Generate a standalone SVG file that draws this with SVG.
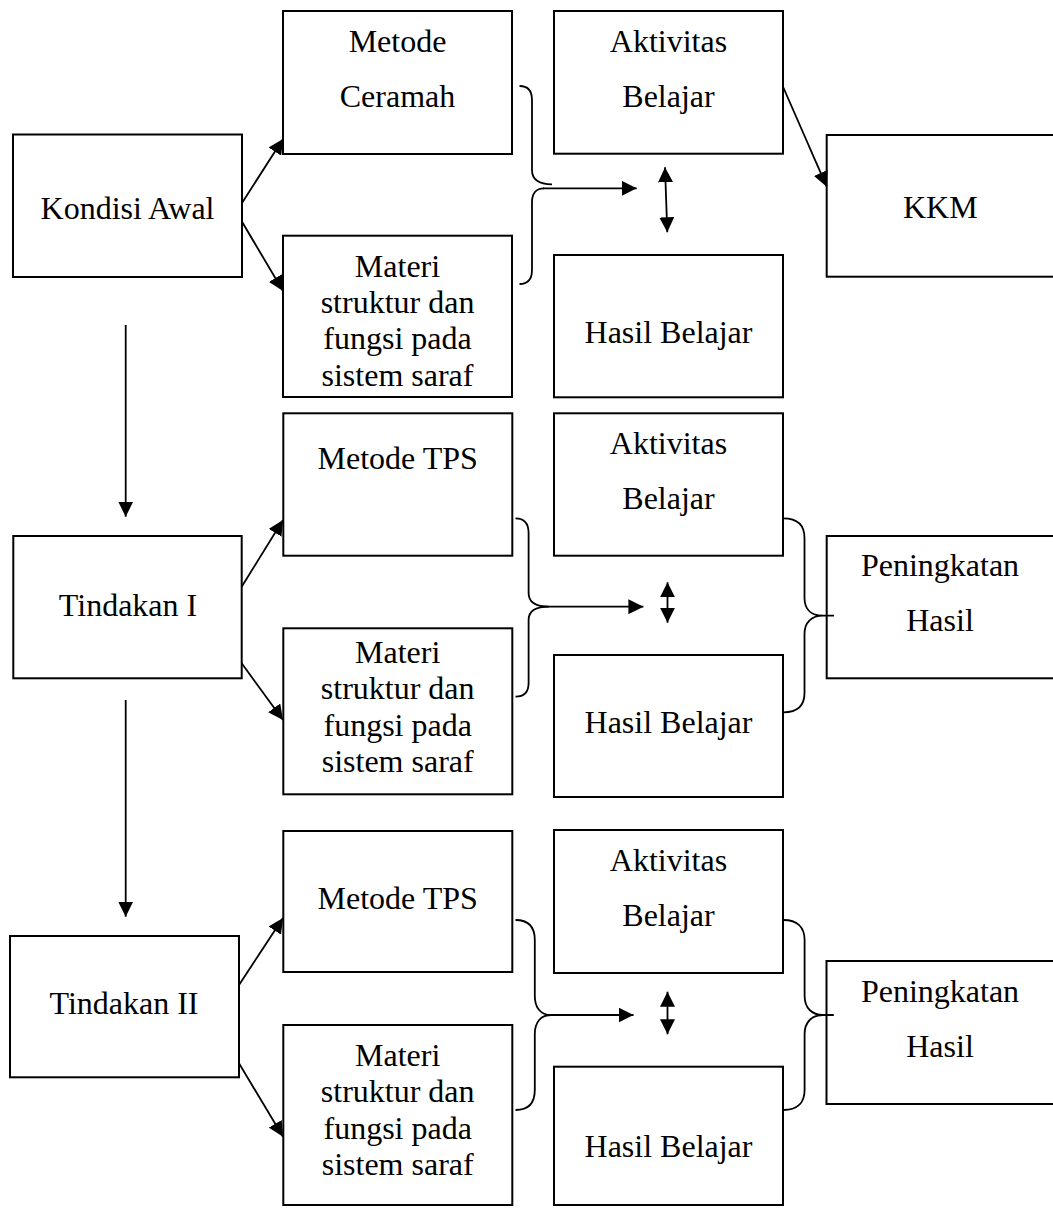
<svg xmlns="http://www.w3.org/2000/svg" width="1053" height="1208" viewBox="0 0 1053 1208">
<style>
.box{fill:#fff;stroke:#000;stroke-width:2}
.t{font-family:"Liberation Serif","Times New Roman",serif;font-size:32px;text-anchor:middle;fill:#000}
.c{fill:none;stroke:#000;stroke-width:1.8}
</style>
<defs>
<marker id="ah" viewBox="0 0 15 15" refX="15" refY="7.5" markerWidth="15" markerHeight="15" markerUnits="userSpaceOnUse" orient="auto-start-reverse">
<path d="M0,0 L15,7.5 L0,15 z" fill="#000"/>
</marker>
</defs>
<rect width="1053" height="1208" fill="#fff"/>

<g id="kondisi-awal"><rect class="box" x="13" y="134.5" width="229" height="142.5"/><text class="t" x="127.5" y="219">Kondisi Awal</text></g>
<g id="metode-ceramah"><rect class="box" x="283" y="11" width="229" height="143"/><text class="t" x="397.5" y="51.7">Metode</text><text class="t" x="397.5" y="106.7">Ceramah</text></g>
<g id="materi-1"><rect class="box" x="283" y="235.7" width="229" height="161.3"/><text class="t" x="397.5" y="276.5">Materi</text><text class="t" x="397.5" y="313">struktur dan</text><text class="t" x="397.5" y="349.3">fungsi pada</text><text class="t" x="397.5" y="385.7">sistem saraf</text></g>
<g id="aktivitas-1"><rect class="box" x="554" y="11" width="229" height="142.7"/><text class="t" x="668.5" y="51.7">Aktivitas</text><text class="t" x="668.5" y="106.7">Belajar</text></g>
<g id="hasil-1"><rect class="box" x="554" y="255" width="229" height="142.3"/><text class="t" x="668.5" y="343.3">Hasil Belajar</text></g>
<g id="kkm"><rect class="box" x="826.7" y="135" width="230" height="141.7"/><text class="t" x="940.3" y="218.3">KKM</text></g>

<g id="tindakan-1"><rect class="box" x="13.3" y="536" width="228.4" height="142.3"/><text class="t" x="128" y="615.5">Tindakan I</text></g>
<g id="metode-tps-1"><rect class="box" x="283.3" y="413.3" width="229" height="142.4"/><text class="t" x="397.7" y="469">Metode TPS</text></g>
<g id="materi-2"><rect class="box" x="283.3" y="628.3" width="229" height="166"/><text class="t" x="397.7" y="663">Materi</text><text class="t" x="397.7" y="699.3">struktur dan</text><text class="t" x="397.7" y="735.6">fungsi pada</text><text class="t" x="397.7" y="772">sistem saraf</text></g>
<g id="aktivitas-2"><rect class="box" x="554" y="413.3" width="229" height="142.4"/><text class="t" x="668.5" y="454">Aktivitas</text><text class="t" x="668.5" y="509">Belajar</text></g>
<g id="hasil-2"><rect class="box" x="554" y="655" width="229" height="142"/><text class="t" x="668.5" y="733">Hasil Belajar</text></g>
<g id="peningkatan-1"><rect class="box" x="826.7" y="536" width="230" height="142.3"/><text class="t" x="940" y="576">Peningkatan</text><text class="t" x="940" y="631">Hasil</text></g>

<g id="tindakan-2"><rect class="box" x="10" y="936" width="229" height="141.3"/><text class="t" x="124" y="1014.3">Tindakan II</text></g>
<g id="metode-tps-2"><rect class="box" x="283.3" y="831" width="229" height="141"/><text class="t" x="397.7" y="909">Metode TPS</text></g>
<g id="materi-3"><rect class="box" x="283.3" y="1025" width="229" height="180"/><text class="t" x="397.7" y="1066">Materi</text><text class="t" x="397.7" y="1102.3">struktur dan</text><text class="t" x="397.7" y="1138.6">fungsi pada</text><text class="t" x="397.7" y="1175">sistem saraf</text></g>
<g id="aktivitas-3"><rect class="box" x="554" y="830" width="229" height="143"/><text class="t" x="668.5" y="870.7">Aktivitas</text><text class="t" x="668.5" y="925.7">Belajar</text></g>
<g id="hasil-3"><rect class="box" x="554" y="1066.7" width="229" height="138.3"/><text class="t" x="668.5" y="1157">Hasil Belajar</text></g>
<g id="peningkatan-2"><rect class="box" x="826.5" y="961" width="230" height="143"/><text class="t" x="940" y="1001.7">Peningkatan</text><text class="t" x="940" y="1056.7">Hasil</text></g>

<g id="connectors">
<line class="c" x1="242" y1="203" x2="283" y2="139" marker-end="url(#ah)"/>
<line class="c" x1="242" y1="221.7" x2="283" y2="291" marker-end="url(#ah)"/>
<line class="c" x1="125.7" y1="325" x2="125.7" y2="516.7" marker-end="url(#ah)"/>
<path class="c" d="M519.5,86 C528,86 532,91 532,100 L532,170 C532,179 538,184.3 552,184.3 M544,188.3 C536,188.3 532,194 532,202 L532,270 C532,279 528,284 519.5,284"/>
<line class="c" x1="543" y1="188.3" x2="636.7" y2="188.3" marker-end="url(#ah)"/>
<line class="c" x1="665" y1="167.3" x2="667.3" y2="232.3" marker-start="url(#ah)" marker-end="url(#ah)"/>
<line class="c" x1="782.7" y1="86" x2="826.7" y2="186.7" marker-end="url(#ah)"/>

<line class="c" x1="241.7" y1="586.7" x2="283" y2="520" marker-end="url(#ah)"/>
<line class="c" x1="241.7" y1="663.3" x2="283" y2="720" marker-end="url(#ah)"/>
<line class="c" x1="125.7" y1="700" x2="125.7" y2="916.7" marker-end="url(#ah)"/>
<path class="c" d="M515.5,518.3 C525,518.3 528.6,524 528.6,533 L528.6,593 C528.6,602 535,606.7 549,606.7 C535,606.7 528.6,611 528.6,620 L528.6,683 C528.6,692 525,696.7 515.5,696.7"/>
<line class="c" x1="540" y1="606.7" x2="643.4" y2="606.7" marker-end="url(#ah)"/>
<line class="c" x1="667.5" y1="582.3" x2="667.5" y2="622.7" marker-start="url(#ah)" marker-end="url(#ah)"/>
<path class="c" d="M783.4,518.3 C797,518.3 804.5,525 804.5,538 L804.5,598 C804.5,610 812,615.7 823,615.7 L834,615.7 M823,615.7 C812,615.7 804.5,622 804.5,634 L804.5,693 C804.5,706 797,712.3 783.4,712.3"/>

<line class="c" x1="239" y1="985" x2="283" y2="918" marker-end="url(#ah)"/>
<line class="c" x1="239" y1="1063.3" x2="283" y2="1136.7" marker-end="url(#ah)"/>
<path class="c" d="M515.5,920 C529,920 534.8,927 534.8,940 L534.8,996 C534.8,1008 541,1015 551,1015 C541,1015 534.8,1022 534.8,1034 L534.8,1090 C534.8,1103 529,1110 515.5,1110"/>
<line class="c" x1="551" y1="1015" x2="633.5" y2="1015" marker-end="url(#ah)"/>
<line class="c" x1="667.5" y1="991.7" x2="667.5" y2="1034.3" marker-start="url(#ah)" marker-end="url(#ah)"/>
<path class="c" d="M783.4,920 C797,920 804.6,927 804.6,940 L804.6,996 C804.6,1008 812,1015 823,1015 L833.8,1015 M823,1015 C812,1015 804.6,1022 804.6,1034 L804.6,1090 C804.6,1103 797,1110 783.4,1110"/>
</g>
</svg>
